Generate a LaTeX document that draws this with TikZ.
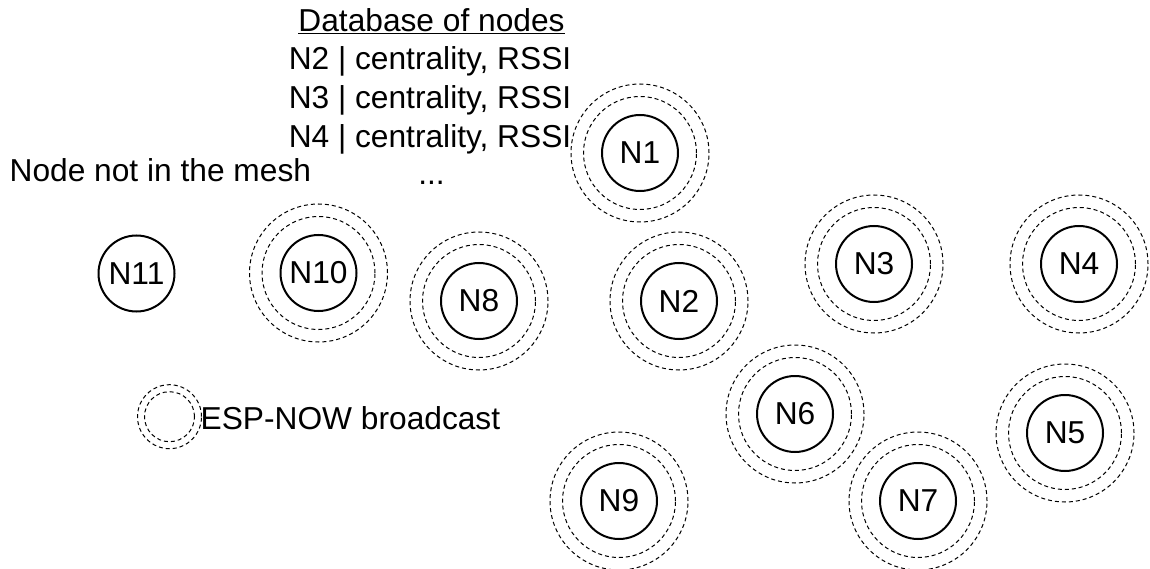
\documentclass[tikz,border=0pt]{standalone}
\usepackage{fontspec}
\setmainfont{Liberation Sans}

\tikzset{
  meshnode/.style={draw,circle,line width=2pt,minimum size=76pt,inner sep=0pt},
  ring/.style={draw,line width=1pt,dash pattern=on 4pt off 3pt},
  label text/.style={inner sep=0pt}
}

\begin{document}
\begin{tikzpicture}[x=1pt,y=-1pt,font=\fontsize{31.7}{38}\selectfont]
    \useasboundingbox (0,0) rectangle (1150,569);

    \coordinate (p1) at (640,153);
    \coordinate (p2) at (679,301);
    \coordinate (p3) at (874,264);
    \coordinate (p4) at (1079,264);
    \coordinate (p5) at (1065,433);
    \coordinate (p6) at (795,414);
    \coordinate (p7) at (918,501);
    \coordinate (p8) at (479,301);
    \coordinate (p9) at (619,501);
    \coordinate (p10) at (318.5,273);
    \coordinate (p11) at (136.5,273.5);
    \coordinate (legend) at (169.5,416.7);

    \node[meshnode] (N1) at (p1) {N1};
    \node[meshnode] (N2) at (p2) {N2};
    \node[meshnode] (N3) at (p3) {N3};
    \node[meshnode] (N4) at (p4) {N4};
    \node[meshnode] (N5) at (p5) {N5};
    \node[meshnode] (N6) at (p6) {N6};
    \node[meshnode] (N7) at (p7) {N7};
    \node[meshnode] (N8) at (p8) {N8};
    \node[meshnode] (N9) at (p9) {N9};
    \node[meshnode] (N10) at (p10) {N10};
    \node[meshnode] (N11) at (p11) {N11};

    % broadcast rings
    \draw[ring] (p1) circle[radius=56.5pt] (p1) circle[radius=69pt];
    \draw[ring] (p2) circle[radius=56.5pt] (p2) circle[radius=69pt];
    \draw[ring] (p3) circle[radius=56.5pt] (p3) circle[radius=69pt];
    \draw[ring] (p4) circle[radius=56.5pt] (p4) circle[radius=69pt];
    \draw[ring] (p5) circle[radius=56.5pt] (p5) circle[radius=69pt];
    \draw[ring] (p6) circle[radius=56.5pt] (p6) circle[radius=69pt];
    \draw[ring] (p7) circle[radius=56.5pt] (p7) circle[radius=69pt];
    \draw[ring] (p8) circle[radius=56.5pt] (p8) circle[radius=69pt];
    \draw[ring] (p9) circle[radius=56.5pt] (p9) circle[radius=69pt];
    \draw[ring] (p10) circle[radius=56.5pt] (p10) circle[radius=69pt];
    \draw[ring] (legend) circle[radius=25pt] (legend) circle[radius=32pt];

    % texts
    \node[label text,anchor=base] (dbtitle) at (431.5,31.7) {\underline{Database of nodes}};
    \node[label text,anchor=base] (dbrow2) at (430,70) {N2 | centrality, RSSI};
    \node[label text,anchor=base] (dbrow3) at (430,109) {N3 | centrality, RSSI};
    \node[label text,anchor=base] (dbrow4) at (430,147.3) {N4 | centrality, RSSI};
    \node[label text,anchor=base] (dbmore) at (431.5,185) {...};
    \node[label text,anchor=base west] (notmesh) at (9.5,181.7) {Node not in the mesh};
    \node[label text,anchor=base west] (legendtext) at (200.5,429) {ESP-NOW broadcast};
\end{tikzpicture}
\end{document}
